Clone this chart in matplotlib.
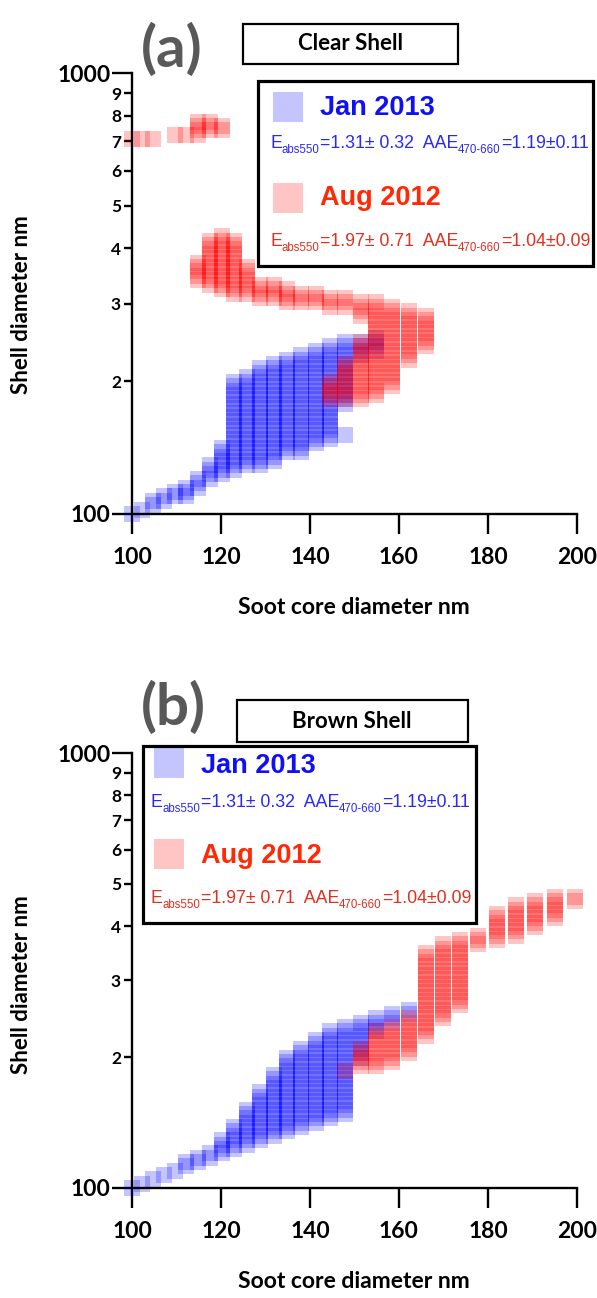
import numpy as np
import matplotlib
matplotlib.use("Agg")
import matplotlib.pyplot as plt
from matplotlib.patches import Rectangle
from matplotlib.ticker import FixedLocator, FixedFormatter

plt.rcParams['font.family'] = ['Lato', 'DejaVu Sans']
plt.rcParams['font.weight'] = 'bold'

W, H, DPI = 597, 1298, 100

# SP2 size-bin grid shared by core and shell diameters (100 bins per decade)
BIN_GRID = 100 * 10 ** (np.arange(0, 101) / 100)

# ---- (a) clear shell ------------------------------------------------------
# each entry: core diameter bin, lowest and highest occupied shell bin (nm)
JAN_A_CORE = [100.0, 102.3, 104.7, 107.2, 109.6, 112.2, 114.8, 117.5, 120.2,
              123.0, 125.9, 128.8, 131.8, 134.9, 138.0, 141.3, 144.5, 147.9,
              147.9, 151.4, 154.9]
JAN_A_LO = [100, 102, 104, 107, 109, 110, 114, 120, 122,
            125, 127, 129, 132, 136, 138, 142, 146, 175,
            150, 225, 235]
JAN_A_HI = [100, 104, 107, 110, 112, 115, 122, 129, 141,
            203, 207, 214, 219, 223, 229, 234, 240, 247,
            150, 247, 251]

AUG_A_CORE = [100.0, 102.3, 104.7, 109.6, 112.2, 114.8, 117.5, 120.2,
              114.8, 117.5, 120.2, 123.0, 125.9, 128.8, 131.8, 134.9, 138.0,
              141.3, 144.5, 147.9, 151.4,
              144.5, 147.9, 151.4, 154.9, 158.5, 162.2, 166.0]
AUG_A_LO = [706, 706, 706, 718, 718, 722, 740, 740,
            339, 331, 322, 316, 316, 310, 308, 303, 303,
            300, 295, 295, 283,
            182, 182, 182, 186, 194, 224, 239]
AUG_A_HI = [706, 706, 706, 718, 722, 773, 773, 760,
            371, 416, 427, 416, 362, 331, 331, 326, 317,
            317, 309, 309, 301,
            203, 218, 247, 301, 296, 289, 283]

# ---- (b) brown shell ------------------------------------------------------
JAN_B_CORE = [100.0, 102.3, 104.7, 107.2, 109.6, 112.2, 114.8, 117.5, 120.2,
              123.0, 125.9, 128.8, 131.8, 134.9, 138.0, 141.3, 144.5, 147.9,
              151.4, 154.9, 158.5, 162.2]
JAN_B_LO = [100, 102, 104, 106, 109, 112, 114, 117, 120,
            123, 126, 129, 131, 134, 137, 141, 145, 148,
            200, 225, 238, 250]
JAN_B_HI = [100, 103, 106, 108, 111, 115, 117, 122, 129,
            139, 151, 167, 182, 201, 210, 220, 230, 237,
            242, 247, 254, 259]

AUG_B_CORE = [147.9, 151.4, 154.9, 158.5, 162.2, 166.0, 169.8, 173.8,
              177.8, 182.0, 186.2, 190.5, 195.0, 199.5]
AUG_B_LO = [183, 188, 190, 195, 202, 220, 243, 259,
            360, 370, 378, 396, 415, 455]
AUG_B_HI = [187, 208, 230, 237, 246, 351, 368, 378,
            385, 425, 446, 457, 467, 467]

X_TICKS = [100, 120, 140, 160, 180, 200]
Y_MAJOR = [100, 1000]
Y_MAJOR_LABELS = ['100', '1000']
Y_MINOR = [200, 300, 400, 500, 600, 700, 800, 900]
Y_MINOR_LABELS = ['2', '3', '4', '5', '6', '7', '8', '9']

JAN_STATS = [("E", False), ("abs550", True), ("=1.31\u00b1 0.32  AAE", False),
             ("470-660", True), ("=1.19\u00b10.11", False)]
AUG_STATS = [("E", False), ("abs550", True), ("=1.97\u00b1 0.71  AAE", False),
             ("470-660", True), ("=1.04\u00b10.09", False)]

BLUE = '#0000ff'
RED = '#ff0000'
ALPHA = 0.23
MSIZE = 11.5  # marker edge in points


def fx(px):
    return px / W


def fy(py):
    return 1 - py / H


def columns(core, lo, hi):
    xs, ys = [], []
    for c, a, b in zip(core, lo, hi):
        sel = BIN_GRID[(BIN_GRID >= a * 0.995) & (BIN_GRID <= b * 1.005)]
        if sel.size == 0:
            sel = BIN_GRID[[np.argmin(np.abs(np.log(BIN_GRID / a)))]]
        xs.extend([c] * sel.size)
        ys.extend(sel)
    return np.array(xs), np.array(ys)


fig = plt.figure(figsize=(W / DPI, H / DPI), dpi=DPI)
renderer = fig.canvas.get_renderer()


def style_axes(ax):
    ax.set_yscale('log')
    ax.set_xlim(100, 200)
    ax.set_ylim(100, 1000)
    for s in ('top', 'right'):
        ax.spines[s].set_visible(False)
    for s in ('left', 'bottom'):
        ax.spines[s].set_linewidth(1.7)
        ax.spines[s].set_zorder(5)
    ax.xaxis.set_major_locator(FixedLocator(X_TICKS))
    ax.xaxis.set_major_formatter(FixedFormatter([str(t) for t in X_TICKS]))
    ax.xaxis.set_minor_locator(FixedLocator([]))
    ax.yaxis.set_major_locator(FixedLocator(Y_MAJOR))
    ax.yaxis.set_major_formatter(FixedFormatter(Y_MAJOR_LABELS))
    ax.yaxis.set_minor_locator(FixedLocator(Y_MINOR))
    ax.yaxis.set_minor_formatter(FixedFormatter(Y_MINOR_LABELS))
    ax.tick_params(axis='x', which='major', direction='out', length=14.5,
                   width=1.7, labelsize=16.5, pad=9)
    ax.tick_params(axis='y', which='major', direction='out', length=14.5,
                   width=1.7, labelsize=16.5, pad=1)
    ax.tick_params(axis='y', which='minor', direction='out', length=6,
                   width=1.7, labelsize=12.5, pad=2)
    for lbl in ax.get_xticklabels() + ax.get_yticklabels() + \
            ax.get_yticklabels(minor=True):
        lbl.set_fontweight('bold')
    ax.patch.set_visible(False)


def draw_series(ax, core, lo, hi, color):
    xs, ys = columns(core, lo, hi)
    ax.scatter(xs, ys, s=MSIZE ** 2, marker='s', c=color, alpha=ALPHA,
               linewidths=0, clip_on=False, zorder=2)


def rich_text(x_px, y_px, parts, color, size, sub_size, sub_drop):
    x = x_px
    for s, sub in parts:
        t = fig.text(fx(x), fy(y_px + (sub_drop if sub else 0)), s,
                     fontsize=sub_size if sub else size, color=color,
                     family='Liberation Sans', weight='normal',
                     ha='left', va='baseline', zorder=12)
        x += t.get_window_extent(renderer).width


def box(x0, y0, x1, y1, lw):
    fig.patches.append(Rectangle((fx(x0), fy(y1)), fx(x1) - fx(x0),
                                 fy(y0) - fy(y1), transform=fig.transFigure,
                                 facecolor='white', edgecolor='black',
                                 linewidth=lw, zorder=10))


def legend(x0, y0, x1, y1, patch_x, jan_y, aug_y, label_x, stats_x,
           jan_base, jan_stats_base, aug_base, aug_stats_base):
    box(x0, y0, x1, y1, 2.3)
    for py, col in ((jan_y, BLUE), (aug_y, RED)):
        fig.patches.append(Rectangle((fx(patch_x), fy(py + 30)), 30 / W, 30 / H,
                                     transform=fig.transFigure, facecolor=col,
                                     alpha=ALPHA, linewidth=0, zorder=11))
    fig.text(fx(label_x), fy(jan_base), 'Jan 2013', color='#1010f5',
             family='Liberation Sans', weight='bold', fontsize=19.5,
             ha='left', va='baseline', zorder=12)
    fig.text(fx(label_x), fy(aug_base), 'Aug 2012', color='#ff2a05',
             family='Liberation Sans', weight='bold', fontsize=19.5,
             ha='left', va='baseline', zorder=12)
    rich_text(stats_x, jan_stats_base, JAN_STATS, '#2a2af5', 12.8, 8.3, 5)
    rich_text(stats_x, aug_stats_base, AUG_STATS, '#e0301e', 12.8, 8.3, 5)


# axes placement in pixels
ax_a = fig.add_axes([fx(132), fy(514), (577 - 132) / W, (514 - 73) / H])
ax_b = fig.add_axes([fx(132), fy(1188), (577 - 132) / W, (1188 - 753) / H])

for ax in (ax_a, ax_b):
    style_axes(ax)

draw_series(ax_a, JAN_A_CORE, JAN_A_LO, JAN_A_HI, BLUE)
draw_series(ax_a, AUG_A_CORE, AUG_A_LO, AUG_A_HI, RED)
draw_series(ax_b, JAN_B_CORE, JAN_B_LO, JAN_B_HI, BLUE)
draw_series(ax_b, AUG_B_CORE, AUG_B_LO, AUG_B_HI, RED)

# panel letters and shell-type boxes
fig.text(fx(172), fy(50), '(a)', color='#595959', fontsize=42,
         ha='center', va='center', weight='bold')
fig.text(fx(173), fy(708), '(b)', color='#595959', fontsize=42,
         ha='center', va='center', weight='bold')
box(243, 24, 458, 64, 1.6)
fig.text(fx(351), fy(44), 'Clear Shell', fontsize=16, ha='center',
         va='center', weight='bold', zorder=12)
box(237, 700, 468, 742, 1.6)
fig.text(fx(352), fy(721), 'Brown Shell', fontsize=16, ha='center',
         va='center', weight='bold', zorder=12)

# axis titles
for yc in (305, 985):
    fig.text(fx(22), fy(yc), 'Shell diameter nm', rotation=90, fontsize=16,
             ha='center', va='center', weight='bold')
for yc in (608, 1281):
    fig.text(fx(354), fy(yc), 'Soot core diameter nm', fontsize=16.5,
             ha='center', va='center', weight='bold')

# legends
legend(258, 81, 593, 266, 273, 92, 183, 320, 270, 115, 148, 205, 246)
legend(143, 746, 476, 923, 154, 748, 839, 201, 151, 773, 807, 863, 903)

fig.savefig('out.png', dpi=DPI)
